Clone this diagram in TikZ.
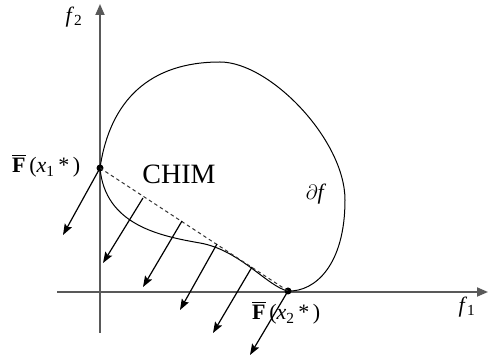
\documentclass[tikz,border=0pt]{standalone}
\usepackage{fontspec}
\setmainfont{Liberation Serif}
\usetikzlibrary{arrows.meta}
\newcommand\barF{\setbox0\hbox{\bfseries F}\vbox{\hrule height 1.4pt width \wd0 \kern2.2pt\box0}}
\begin{document}
\begin{tikzpicture}[x=1pt,y=-1pt,
  axis/.style={draw=black!65,line width=1.8pt,-{Triangle[length=11pt,width=9pt]}},
  boundary/.style={draw=black,line width=1pt},
  chord/.style={draw=black!80,line width=1pt,dash pattern=on 3.5pt off 3pt},
  normal/.style={draw=black,line width=1.2pt,-{Stealth[length=11pt,width=8pt,inset=2pt]}},
  dot/.style={circle,fill=black,inner sep=0pt,minimum size=7pt},
  lbl/.style={inner sep=0pt,font=\fontsize{22}{26}\selectfont}]
\useasboundingbox (0,0) rectangle (488,363);
% axes
\coordinate (yb) at (100,333);
\coordinate (yt) at (100,4);
\coordinate (xl) at (57,292);
\coordinate (xr) at (488,292);
\draw[axis] (yb) -- (yt);
\draw[axis] (xl) -- (xr);
% extreme points
\node[dot] (p1) at (100,168) {};
\node[dot] (p2) at (288,291) {};
% boundary curve
\draw[boundary] (p1.center) .. controls (110,100) and (150,62) .. (220,62)
  .. controls (270,62) and (345,140) .. (345,200)
  .. controls (345,265) and (315,292) .. (p2.center)
  .. controls (268,287) and (240,250) .. (200,243)
  .. controls (160,236) and (105,225) .. (p1.center);
% CHIM chord
\draw[chord] (p1.center) -- (p2.center);
% normals
\coordinate (s2) at (143,198);
\coordinate (s3) at (182,221);
\coordinate (s4) at (217,244);
\coordinate (s5) at (252,267);
\coordinate (e1) at (63,235);
\coordinate (e2) at (103,263);
\coordinate (e3) at (143,287);
\coordinate (e4) at (180,310);
\coordinate (e5) at (213,333);
\coordinate (e6) at (250,355);
\draw[normal] (p1.center) -- (e1);
\draw[normal] (s2) -- (e2);
\draw[normal] (s3) -- (e3);
\draw[normal] (s4) -- (e4);
\draw[normal] (s5) -- (e5);
\draw[normal] (p2.center) -- (e6);
% labels
\node[lbl] (f2) at (74,17) {\textit{f}\textsubscript{2}};
\node[lbl] (f1) at (467,307) {\textit{f}\textsubscript{1}};
\node[lbl] (df) at (316,194) {$\partial$\textit{f}};
\node[inner sep=0pt,font=\fontsize{28}{32}\selectfont] (chim) at (179,174) {CHIM};
\node[lbl,anchor=base west] (F1) at (12,173) {\barF\,(\textit{x}\textsubscript{1}\,*\,)};
\node[lbl,anchor=base west] (F2) at (252,320) {\barF\,(\textit{x}\textsubscript{2}\,*\,)};
\end{tikzpicture}
\end{document}
